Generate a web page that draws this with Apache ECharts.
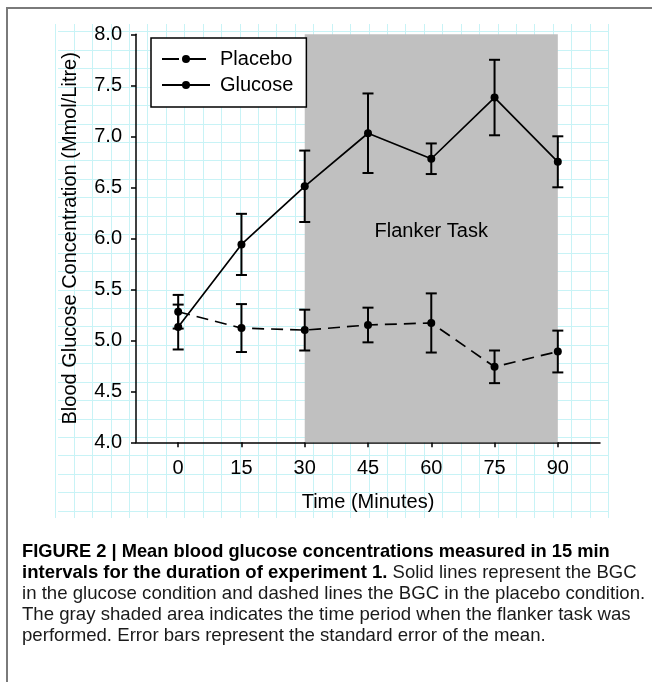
<!DOCTYPE html>
<html>
<head>
<meta charset="utf-8">
<script src="https://cdn.jsdelivr.net/npm/echarts@6/dist/echarts.min.js"></script>
<style>
  html, body { margin: 0; padding: 0; background: #fff; }
  #chart { width: 652px; height: 682px; }
</style>
</head>
<body>
<div id="chart"></div>
<script>
// 数据
const times = [0, 15, 30, 45, 60, 75, 90];
const placeboMean = [5.28, 5.12, 5.10, 5.15, 5.17, 4.74, 4.89];
const placeboSE = [0.165, 0.235, 0.20, 0.17, 0.29, 0.16, 0.205];
const glucoseMean = [5.13, 5.94, 6.51, 7.03, 6.78, 7.38, 6.75];
const glucoseSE = [0.22, 0.30, 0.35, 0.39, 0.15, 0.37, 0.25];
const xTicks = [0, 15, 30, 45, 60, 75, 90];
const taskStart = 30;
const taskEnd = 90;

const FONT = 'Liberation Sans, Arial, sans-serif';
const paperColor = '#c8f3f6';

// 误差线
function errorData(mean, se) {
  return times.map((t, i) => [t, mean[i] - se[i], mean[i] + se[i]]);
}

function renderError(params, api) {
  const x = api.value(0);
  const lo = api.coord([x, api.value(1)]);
  const hi = api.coord([x, api.value(2)]);
  const w = 5.5;
  const style = { stroke: '#000', lineWidth: 2, fill: null };
  return {
    type: 'group',
    children: [
      { type: 'line', shape: { x1: lo[0], y1: lo[1], x2: hi[0], y2: hi[1] }, style },
      { type: 'line', shape: { x1: lo[0] - w, y1: lo[1], x2: lo[0] + w, y2: lo[1] }, style },
      { type: 'line', shape: { x1: hi[0] - w, y1: hi[1], x2: hi[0] + w, y2: hi[1] }, style }
    ]
  };
}

// 图注文字
function captionLine(y, text, sx, rich) {
  const style = { text: text, font: '19px ' + FONT, fill: '#1a1a1a' };
  if (rich) style.rich = rich;
  return { type: 'text', x: 0, y: y, scaleX: sx, style: style };
}

const chart = echarts.init(document.getElementById('chart'));

const hidden = { show: false };
const boldRich = { b: { fontWeight: 'bold', fontSize: 19, fontFamily: FONT, fill: '#000' } };

const option = {
  backgroundColor: '#fff',
  animation: false,
  grid: [
    // 主图
    { left: 136, top: 34.3, width: 464, height: 408, containLabel: false },
    // 背景网格（横线）
    { left: 58, top: 31.7, width: 550, height: 479.3, z: 0 },
    // 背景网格（竖线）
    { left: 55.6, top: 24, width: 552.7, height: 494, z: 0 }
  ],
  legend: {
    data: [
      { name: 'Placebo', lineStyle: { type: [17, 10] } },
      { name: 'Glucose' }
    ],
    orient: 'vertical',
    left: 151,
    top: 38,
    padding: [11, 13, 12, 10],
    itemGap: 6,
    itemWidth: 48,
    itemHeight: 10,
    borderColor: '#000',
    borderWidth: 1.5,
    backgroundColor: '#fff',
    textStyle: { fontFamily: FONT, fontSize: 20, color: '#000', padding: [0, 0, 0, 5] },
    z: 10
  },
  xAxis: [
    {
      gridIndex: 0,
      type: 'value',
      min: -10,
      max: 100,
      name: 'Time (Minutes)',
      nameLocation: 'middle',
      nameGap: 50,
      nameTextStyle: { fontFamily: FONT, fontSize: 20, color: '#000' },
      axisLine: { show: true, onZero: false, lineStyle: { color: '#000', width: 1.5 } },
      axisTick: { show: true, length: 5, customValues: xTicks, lineStyle: { color: '#000', width: 1.5 } },
      axisLabel: { customValues: xTicks, margin: 16, fontFamily: FONT, fontSize: 20, color: '#000' },
      splitLine: { show: false }
    },
    { gridIndex: 1, type: 'value', min: 0, max: 1, show: false, splitLine: hidden },
    {
      gridIndex: 2, type: 'value', min: 0, max: 30, interval: 1,
      axisLine: hidden, axisTick: hidden, axisLabel: hidden,
      splitLine: { show: true, lineStyle: { color: paperColor, width: 1 } }
    }
  ],
  yAxis: [
    {
      gridIndex: 0,
      type: 'value',
      min: 4,
      max: 8,
      interval: 0.5,
      name: 'Blood Glucose Concentration (Mmol/Litre)',
      nameLocation: 'middle',
      nameGap: 56,
      nameTextStyle: { fontFamily: FONT, fontSize: 20, color: '#000' },
      axisLine: { show: true, onZero: false, lineStyle: { color: '#000', width: 1.5 } },
      axisTick: { show: true, length: 5, lineStyle: { color: '#000', width: 1.5 } },
      axisLabel: { margin: 14, fontFamily: FONT, fontSize: 20, color: '#000', formatter: v => v.toFixed(1) },
      splitLine: { show: false }
    },
    {
      gridIndex: 1, type: 'value', min: 0, max: 26, interval: 1,
      axisLine: hidden, axisTick: hidden, axisLabel: hidden,
      splitLine: { show: true, lineStyle: { color: paperColor, width: 1 } }
    },
    { gridIndex: 2, type: 'value', min: 0, max: 1, show: false, splitLine: hidden }
  ],
  series: [
    {
      name: 'Placebo',
      type: 'line',
      data: times.map((t, i) => [t, placeboMean[i]]),
      symbol: 'circle',
      symbolSize: 8,
      itemStyle: { color: '#000' },
      lineStyle: { color: '#000', width: 1.7, type: [12, 7] },
      z: 5,
      markArea: {
        silent: true,
        itemStyle: { color: '#c0c0c0' },
        label: {
          show: true,
          position: 'inside',
          offset: [0, -7],
          fontFamily: FONT,
          fontSize: 20,
          color: '#000'
        },
        data: [[{ name: 'Flanker Task', xAxis: taskStart, yAxis: 4 }, { xAxis: taskEnd, yAxis: 8 }]]
      }
    },
    {
      name: 'Glucose',
      type: 'line',
      data: times.map((t, i) => [t, glucoseMean[i]]),
      symbol: 'circle',
      symbolSize: 8,
      itemStyle: { color: '#000' },
      lineStyle: { color: '#000', width: 1.7 },
      z: 5
    },
    {
      name: 'placeboErr',
      type: 'custom',
      renderItem: renderError,
      data: errorData(placeboMean, placeboSE),
      encode: { x: 0, y: [1, 2] },
      z: 4
    },
    {
      name: 'glucoseErr',
      type: 'custom',
      renderItem: renderError,
      data: errorData(glucoseMean, glucoseSE),
      encode: { x: 0, y: [1, 2] },
      z: 4
    }
  ],
  graphic: [
    // 外框
    {
      type: 'rect',
      shape: { x: 7, y: 8, width: 700, height: 700 },
      style: { fill: null, stroke: '#7a7a7a', lineWidth: 2 },
      z: 100
    },
    // 图注
    {
      type: 'group',
      left: 22,
      top: 542,
      children: [
        captionLine(0, '{b|FIGURE 2 | Mean blood glucose concentrations measured in 15 min}', 0.963, boldRich),
        captionLine(21, '{b|intervals for the duration of experiment 1.} Solid lines represent the BGC', 0.975, boldRich),
        captionLine(42, 'in the glucose condition and dashed lines the BGC in the placebo condition.', 0.98),
        captionLine(63, 'The gray shaded area indicates the time period when the flanker task was', 0.98),
        captionLine(84, 'performed. Error bars represent the standard error of the mean.', 0.98)
      ]
    }
  ]
};

chart.setOption(option);
</script>
</body>
</html>
